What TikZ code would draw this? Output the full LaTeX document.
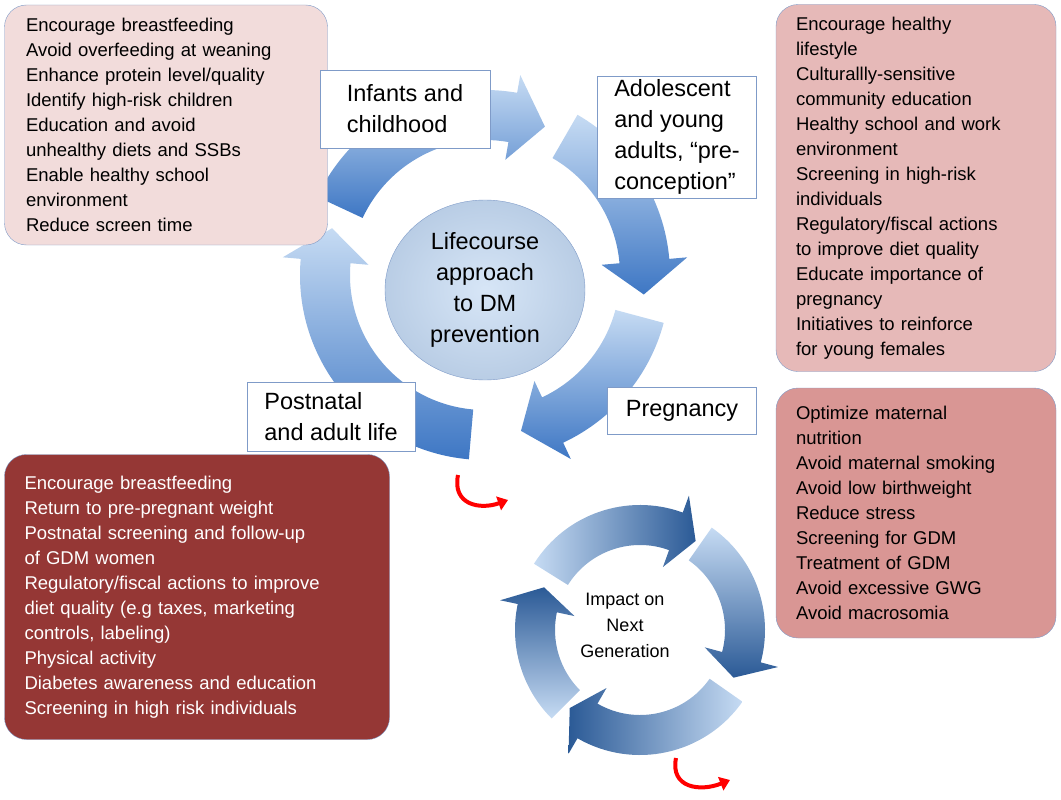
\documentclass[tikz,border=0pt]{standalone}
\usepackage{fontspec}
\setmainfont{Liberation Sans}
\usetikzlibrary{arrows.meta,shapes.geometric}
\definecolor{pinklight}{HTML}{F2DCDB}
\definecolor{pinkmid}{HTML}{E6B9B8}
\definecolor{pinkdark}{HTML}{D99694}
\definecolor{wine}{HTML}{953735}
\definecolor{edgeblue}{HTML}{7F9BC8}
\definecolor{arrowlight}{HTML}{C6DBF3}
\definecolor{arrowdark}{HTML}{3E77C4}
\definecolor{navy}{HTML}{2B5A96}
\definecolor{centrefill}{HTML}{B9CDE5}
% filled ring arrow: centre x, centre y, start, end, inner r, outer r, style
\newcommand\ringarrow[7]{%
  \path[#7, shift={(#1,#2)}]
    (#3:#6) arc[start angle=#3, end angle=#4, radius=#6]
    -- (#4:{#6+18}) -- ({#4+12}:{(#5+#6)/2}) -- (#4:{#5-18})
    -- (#4:#5) arc[start angle=#4, end angle=#3, radius=#5] -- cycle;}
\begin{document}
\begin{tikzpicture}[x=1pt, y=-1pt,
    box/.style={%
      rounded corners=22pt, % soft corners
      draw=edgeblue,        % thin blue edge
      align=left,           % left aligned lines
      inner xsep=20pt,
      font=\fontsize{18.5}{25}\selectfont
    },
    stage/.style={%
      draw=edgeblue,        % plain framed label
      fill=white,
      align=left,
      font=\fontsize{23.5}{31}\selectfont
    },
    toparrow/.style={%
      top color=arrowlight,     % light top
      bottom color=arrowdark    % darker bottom
    },
    lowarrow/.style={%
      top color=navy,           % dark towards the tip
      bottom color=arrowlight,  % light at the tail
      shading angle=#1
    },
    twist/.style={%
      draw=red, line width=4pt,
      -{Triangle[length=10pt,width=14pt]}
    }
]
  \useasboundingbox (0,0) rectangle (1061,800);

  % upper cycle
  \ringarrow{485}{275}{205}{280}{135}{185}{toparrow}
  \ringarrow{485}{275}{300}{355}{135}{185}{toparrow}
  \ringarrow{485}{275}{15}{65}{135}{185}{toparrow}
  \ringarrow{485}{275}{95}{185}{135}{185}{toparrow}

  % lower cycle
  \ringarrow{640}{630}{212}{290}{85}{125}{lowarrow=270}
  \ringarrow{640}{630}{305}{375}{85}{125}{lowarrow=180}
  \ringarrow{640}{630}{35}{120}{85}{125}{lowarrow=90}
  \ringarrow{640}{630}{135}{192}{85}{125}{lowarrow=0}

  % centre
  \node[ellipse, draw=edgeblue, inner color=arrowlight!70, outer color=centrefill,
        minimum width=200pt, minimum height=180pt, align=center,
        font=\fontsize{23.5}{31}\selectfont] (life) at (485,290)
        {Lifecourse\\approach\\to DM\\prevention};
  \node[align=center, font=\fontsize{18}{26}\selectfont] (impact) at (625,625)
        {Impact on\\Next\\Generation};

  % boxes
  \node[box, fill=pinklight, minimum width=323pt, minimum height=240pt, text width=280pt] (infbox) at (166,125)
    {Encourage breastfeeding\\Avoid overfeeding at weaning\\Enhance protein level/quality\\
     Identify high-risk children\\Education and avoid\\unhealthy diets and SSBs\\
     Enable healthy school\\environment\\Reduce screen time};
  \node[box, fill=pinkmid, minimum width=280pt, minimum height=367pt, text width=240pt] (adobox) at (916,188)
    {Encourage healthy\\lifestyle\\Culturallly-sensitive\\community education\\
     Healthy school and work\\environment\\Screening in high-risk\\individuals\\
     Regulatory/fiscal actions\\to improve diet quality\\Educate importance of\\
     pregnancy\\Initiatives to reinforce\\for young females};
  \node[box, fill=pinkdark, minimum width=280pt, minimum height=250pt, text width=240pt] (pregbox) at (916,513)
    {Optimize maternal\\nutrition\\Avoid maternal smoking\\Avoid low birthweight\\
     Reduce stress\\Screening for GDM\\Treatment of GDM\\Avoid excessive GWG\\
     Avoid macrosomia};
  \node[box, fill=wine, text=white, minimum width=385pt, minimum height=285pt, text width=345pt] (postbox) at (197,597)
    {Encourage breastfeeding\\Return to pre-pregnant weight\\Postnatal screening and follow-up\\
     of GDM women\\Regulatory/fiscal actions to improve\\diet quality (e.g taxes, marketing\\
     controls, labeling)\\Physical activity\\Diabetes awareness and education\\
     Screening in high risk individuals};

  % stage labels
  \node[stage, minimum width=170pt, minimum height=78pt] (infants) at (405,109) {Infants and\\childhood};
  \node[stage, minimum width=159pt, minimum height=105pt] (adolescent) at (677,137)
    {Adolescent\\and young\\adults, “pre-\\conception”};
  \node[stage, minimum width=149pt, minimum height=47pt] (pregnancy) at (682,411) {Pregnancy};
  \node[stage, minimum width=168pt, minimum height=69pt] (postnatal) at (331,417) {Postnatal\\and adult life};

  % red twists
  \coordinate (twistA) at (458,475);
  \coordinate (twistAend) at (508,500);
  \coordinate (twistB) at (676,758);
  \coordinate (twistBend) at (730,780);
  \draw[twist] (twistA) .. controls (452,505) and (480,510) .. (twistAend);
  \draw[twist] (twistB) .. controls (670,788) and (700,792) .. (twistBend);
\end{tikzpicture}
\end{document}
